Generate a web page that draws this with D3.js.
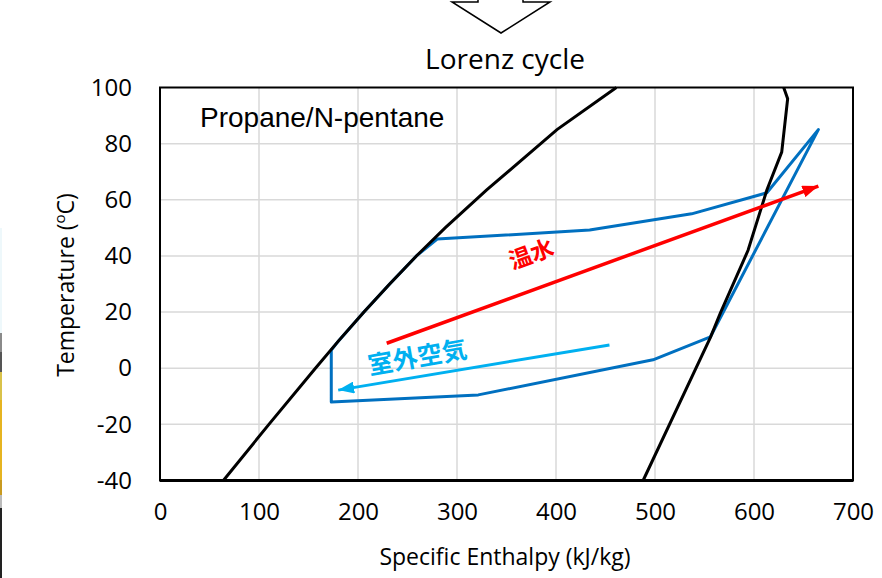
<!DOCTYPE html>
<html>
<head>
<meta charset="utf-8">
<script src="https://cdn.jsdelivr.net/npm/d3@7"></script>
<style>
  body { margin: 0; background: #fff; }
  svg { display: block; }
</style>
</head>
<body>
<svg id="chart" width="882" height="578"></svg>
<script>
// saturated liquid line (enthalpy kJ/kg, temperature degC)
const liqH = [64, 110, 157, 181, 206, 232, 259, 288, 330, 401, 461];
const liqT = [-40, -20, 0, 10, 20, 30, 40, 50, 63.5, 85, 100];
// saturated vapour line
const vapH = [488, 556, 566, 594, 613, 628, 634, 630];
const vapT = [-40, 11, 19.6, 42, 63.5, 77, 96, 100];
// Lorenz cycle path
const cycH = [173, 173, 321.5, 498, 556, 665, 613, 537, 434, 280, 259, 232, 206, 181, 173];
const cycT = [6.5, -12, -9.5, 3, 11.2, 85, 62.5, 55, 49.2, 46, 40, 30, 20, 10, 6.5];
// hot water and outdoor air arrows
const hotH = [229, 665];
const hotT = [8.9, 64.9];
const airH = [454, 180];
const airT = [8.3, -7.8];

const xTicks = [0, 100, 200, 300, 400, 500, 600, 700];
const yTicks = [-40, -20, 0, 20, 40, 60, 80, 100];

const svg = d3.select("#chart");
const x = d3.scaleLinear().domain([0, 700]).range([160, 853]);
const y = d3.scaleLinear().domain([-40, 100]).range([480.5, 87.5]);

const pts = (hs, ts) => hs.map((h, i) => [h, ts[i]]);
const line = d3.line().x(d => x(d[0])).y(d => y(d[1]));

// cropped photo strip on the far left
const strip = [[228, 333, "#eef8fb"], [333, 352, "#8a8a8a"], [352, 372, "#555"],
  [372, 400, "#d9c24a"], [400, 480, "#e6b420"], [480, 495, "#c89a20"],
  [495, 508, "#bbb"], [508, 578, "#222"]];
svg.selectAll("rect.strip").data(strip).join("rect")
  .attr("class", "strip")
  .attr("x", 0).attr("width", 2)
  .attr("y", d => d[0]).attr("height", d => d[1] - d[0])
  .attr("fill", d => d[2]);

// block arrow at the top
svg.append("path")
  .attr("d", "M478,-2 L478,2 L452,2 L501,33 L550,2 L523,2 L523,-2")
  .attr("fill", "#fff").attr("stroke", "#000").attr("stroke-width", 1.5);

svg.append("text")
  .attr("x", 505).attr("y", 69)
  .attr("text-anchor", "middle")
  .attr("font-family", "Open Sans").attr("font-size", "28px")
  .text("Lorenz cycle");

// grid
svg.append("g").selectAll("line").data(xTicks.slice(1, -1)).join("line")
  .attr("x1", d => x(d)).attr("x2", d => x(d))
  .attr("y1", y(100)).attr("y2", y(-40))
  .attr("stroke", "#d9d9d9").attr("stroke-width", 1.5);
svg.append("g").selectAll("line").data(yTicks.slice(1, -1)).join("line")
  .attr("y1", d => y(d)).attr("y2", d => y(d))
  .attr("x1", x(0)).attr("x2", x(700))
  .attr("stroke", "#d9d9d9").attr("stroke-width", 1.5);

// axes (labels only, Excel style)
const xAxis = svg.append("g")
  .attr("transform", `translate(0,${y(-40)})`)
  .call(d3.axisBottom(x).tickValues(xTicks).tickFormat(d => String(d)).tickSize(0).tickPadding(22));
const yAxis = svg.append("g")
  .attr("transform", `translate(${x(0)},0)`)
  .call(d3.axisLeft(y).tickValues(yTicks).tickFormat(d => String(d)).tickSize(0).tickPadding(28));
[xAxis, yAxis].forEach(g => {
  g.select(".domain").remove();
  g.selectAll("text")
    .attr("font-family", "Open Sans").attr("font-size", "24px").attr("fill", "#000");
});

// plot border
svg.append("rect")
  .attr("x", x(0)).attr("y", y(100))
  .attr("width", x(700) - x(0)).attr("height", y(-40) - y(100))
  .attr("fill", "none").attr("stroke", "#000").attr("stroke-width", 2);
svg.append("line")
  .attr("x1", x(0)).attr("x2", x(700)).attr("y1", y(-40)).attr("y2", y(-40))
  .attr("stroke", "#000").attr("stroke-width", 3);

// axis titles
svg.append("text")
  .attr("x", 505).attr("y", 565)
  .attr("text-anchor", "middle")
  .attr("font-family", "Open Sans").attr("font-size", "23px")
  .text("Specific Enthalpy (kJ/kg)");
const yt = svg.append("text")
  .attr("transform", "translate(74,285) rotate(-90)")
  .attr("text-anchor", "middle")
  .attr("font-family", "Open Sans").attr("font-size", "23px");
yt.append("tspan").text("Temperature (");
yt.append("tspan").attr("font-size", "15px").attr("dy", -9).text("o");
yt.append("tspan").attr("dy", 9).text("C)");

svg.append("text")
  .attr("x", 200).attr("y", 127)
  .attr("font-family", "Liberation Sans").attr("font-size", "28px")
  .text("Propane/N-pentane");

// arrow markers
const defs = svg.append("defs");
[["hotHead", "#ff0000"], ["airHead", "#00b0f0"]].forEach(([id, c]) => {
  defs.append("marker")
    .attr("id", id).attr("markerUnits", "userSpaceOnUse")
    .attr("viewBox", "0 0 16 12").attr("refX", 16).attr("refY", 6)
    .attr("markerWidth", 16).attr("markerHeight", 12)
    .attr("orient", "auto")
    .append("path").attr("d", "M0,0 L16,6 L0,12 Z").attr("fill", c);
});

const plot = svg.append("g");
plot.append("path").datum(pts(cycH, cycT))
  .attr("d", line).attr("fill", "none")
  .attr("stroke", "#0070c0").attr("stroke-width", 3).attr("stroke-linejoin", "round");
plot.append("path").datum(pts(liqH, liqT))
  .attr("d", line).attr("fill", "none")
  .attr("stroke", "#000").attr("stroke-width", 3);
plot.append("path").datum(pts(vapH, vapT))
  .attr("d", line).attr("fill", "none")
  .attr("stroke", "#000").attr("stroke-width", 3);
plot.append("path").datum(pts(hotH, hotT))
  .attr("d", line).attr("fill", "none")
  .attr("stroke", "#ff0000").attr("stroke-width", 3.5)
  .attr("marker-end", "url(#hotHead)");
plot.append("path").datum(pts(airH, airT))
  .attr("d", line).attr("fill", "none")
  .attr("stroke", "#00b0f0").attr("stroke-width", 3)
  .attr("marker-end", "url(#airHead)");

// stream labels
svg.append("text")
  .attr("transform", "translate(534,262) rotate(-20)")
  .attr("text-anchor", "middle")
  .attr("font-family", "Noto Sans CJK JP").attr("font-weight", "bold")
  .attr("font-size", "23px").attr("fill", "#ff0000")
  .text("温水");
svg.append("text")
  .attr("transform", "translate(419,366) rotate(-10)")
  .attr("text-anchor", "middle")
  .attr("font-family", "Noto Sans CJK JP").attr("font-weight", "bold")
  .attr("font-size", "25px").attr("fill", "#00b0f0")
  .text("室外空気");
</script>
</body>
</html>
